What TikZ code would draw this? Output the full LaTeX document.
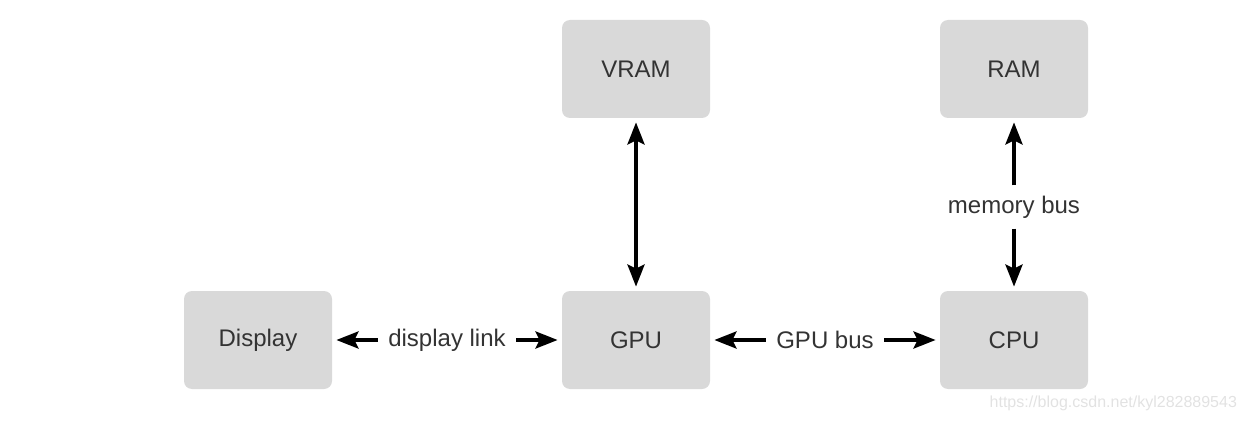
\documentclass[tikz,border=0pt]{standalone}
\usepackage{fontspec}
\setmainfont{Liberation Sans}
\usetikzlibrary{arrows.meta}
\definecolor{boxgray}{HTML}{D9D9D9}
\definecolor{textgray}{HTML}{333333}
\definecolor{markgray}{HTML}{E2E2E2}
\tikzset{
  unit/.style={fill=boxgray, rounded corners=4pt, minimum width=74pt,
    minimum height=49pt, text=textgray, font=\fontsize{12}{14}\selectfont},
  buslabel/.style={text=textgray, inner sep=5pt, font=\fontsize{12}{14}\selectfont},
  busline/.style={line width=1.8pt, -{Stealth[length=11pt,width=8.5pt,inset=2pt]}, shorten >=2pt},
  busboth/.style={line width=1.8pt, {Stealth[length=11pt,width=8.5pt,inset=2pt]}-{Stealth[length=11pt,width=8.5pt,inset=2pt]},
    shorten >=2pt, shorten <=2pt}
}
\begin{document}
\begin{tikzpicture}[x=0.5pt,y=-0.5pt]
  \useasboundingbox (0,0) rectangle (1246,422);
  \draw
    (636,69) node[unit] (vram){VRAM}
    (1014,69) node[unit] (ram){RAM}
    (258,340) node[unit] (display){Display}
    (636,340) node[unit] (gpu){GPU}
    (1014,340) node[unit] (cpu){CPU};
  \draw
    (447,340) node[buslabel] (dlink){display link}
    (825,340) node[buslabel] (gbus){GPU bus}
    (1014,207) node[buslabel] (mbus){memory bus};
  \begin{scope}[busline]
    \draw (dlink) to (display);
    \draw (dlink) to (gpu);
    \draw (gbus) to (gpu);
    \draw (gbus) to (cpu);
    \draw (mbus) to (ram);
    \draw (mbus) to (cpu);
  \end{scope}
  \draw[busboth] (vram) to (gpu);
  \node[text=markgray, font=\fontsize{8}{9}\selectfont, anchor=east] (mark) at (1244,403)
    {https://blog.csdn.net/kyl282889543};
\end{tikzpicture}
\end{document}
